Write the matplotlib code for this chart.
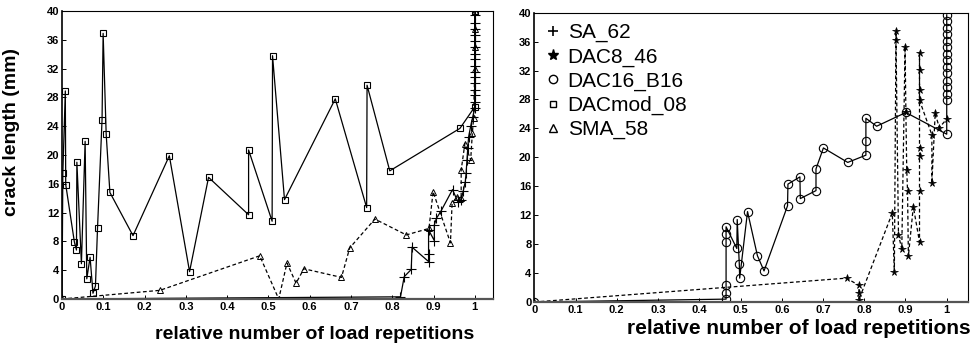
import matplotlib
matplotlib.use("Agg")
import matplotlib.pyplot as plt
from matplotlib.lines import Line2D

plt.rcParams['font.family'] = ['Liberation Sans', 'DejaVu Sans']

# ---- left panel ----
sa62_x = [0, 0.82, 0.829, 0.846, 0.848, 0.888, 0.888, 0.888, 0.902, 0.902, 0.907, 0.918,
          0.946, 0.959, 0.967, 0.972, 0.977, 0.979, 0.981, 0.983, 0.985, 0.99, 0.995, 1.0,
          1.0, 1.0, 1.0, 1.0, 1.0, 1.0, 1.0, 1.0, 1.0, 1.0, 1.0, 1.0, 1.0, 1.0, 1.0]
sa62_y = [0, 0.3, 3.1, 4.1, 7.2, 5.2, 6.2, 9.6, 8.1, 10.3, 11.2, 12.2,
          15.2, 13.5, 13.8, 15.0, 16.3, 17.5, 19.3, 21.0, 22.5, 24.0, 25.3, 26.5,
          27.4, 28.3, 29.1, 30.0, 30.8, 31.6, 32.4, 33.3, 34.1, 35.0, 35.8, 36.7, 37.5, 38.4, 39.4]

dacmod_x = [0, 0.002, 0.008, 0.009, 0.030, 0.035, 0.036, 0.047, 0.056, 0.060, 0.068, 0.075,
            0.081, 0.086, 0.097, 0.0996, 0.107, 0.116, 0.172, 0.260, 0.309, 0.355, 0.452,
            0.452, 0.509, 0.510, 0.539, 0.662, 0.738, 0.739, 0.794, 0.964, 1.0, 1.0]
dacmod_y = [0, 17.5, 28.9, 15.9, 7.9, 6.8, 19.0, 4.9, 21.9, 2.8, 5.8, 0.8,
            1.8, 9.8, 24.9, 36.9, 22.9, 14.8, 8.8, 19.9, 3.8, 16.9, 11.7,
            20.7, 10.8, 33.8, 13.8, 27.8, 12.7, 29.7, 17.8, 23.7, 26.7, 40.0]

sma58_x = [0, 0.237, 0.479, 0.525, 0.545, 0.567, 0.586, 0.677, 0.697, 0.758, 0.834, 0.889,
           0.899, 0.941, 0.945, 0.957, 0.967, 0.967, 0.976, 0.99, 0.994, 0.997, 1.0, 1.0,
           1.0, 1.0]
sma58_y = [0, 1.2, 6.0, 0.0, 5.0, 2.2, 4.2, 3.0, 7.1, 11.1, 8.9, 9.8,
           14.9, 7.8, 13.3, 14.2, 14.0, 17.9, 21.6, 19.3, 23.0, 25.1, 32.0, 35.0,
           37.5, 40.0]

# ---- right panel ----
dac16_x = [0, 0.465, 0.465, 0.465, 0.465, 0.465, 0.465, 0.491, 0.492, 0.497, 0.498, 0.517,
           0.541, 0.557, 0.614, 0.615, 0.644, 0.645, 0.683, 0.683, 0.701, 0.760, 0.804,
           0.804, 0.804, 0.830, 0.901, 1.0, 1.0, 1.0, 1.0, 1.0, 1.0, 1.0, 1.0, 1.0, 1.0,
           1.0, 1.0, 1.0, 1.0, 1.0]
dac16_y = [0, 0.4, 1.3, 2.4, 8.3, 9.4, 10.4, 7.4, 11.4, 5.3, 3.3, 12.5,
           6.4, 4.3, 13.3, 16.3, 17.3, 14.3, 15.4, 18.4, 21.3, 19.3, 20.3,
           22.3, 25.4, 24.3, 26.2, 23.2, 27.9, 28.8, 29.7, 30.6, 31.6, 32.5, 33.4, 34.3,
           35.2, 36.1, 37.0, 37.9, 38.8, 39.7]

dac8_x = [0, 0.757, 0.787, 0.787, 0.787, 0.868, 0.873, 0.877, 0.877, 0.883, 0.891, 0.899,
          0.901, 0.903, 0.905, 0.907, 0.919, 0.934, 0.934, 0.934, 0.934, 0.934, 0.934,
          0.934, 0.934, 0.964, 0.964, 0.972, 0.982, 1.0]
dac8_y = [0, 3.3, 2.3, 1.3, 0.3, 12.3, 4.1, 37.4, 36.2, 9.3, 7.3, 35.3,
          26.2, 18.3, 15.3, 6.3, 13.2, 8.3, 15.3, 20.2, 21.3, 34.4, 32.1,
          29.3, 27.9, 23.1, 16.4, 26.1, 24.1, 25.3]

x_ticks = [0, 0.1, 0.2, 0.3, 0.4, 0.5, 0.6, 0.7, 0.8, 0.9, 1]
x_tick_labels = ["0", "0.1", "0.2", "0.3", "0.4", "0.5", "0.6", "0.7", "0.8", "0.9", "1"]
y_ticks = [0, 4, 8, 12, 16, 20, 24, 28, 32, 36, 40]

names = ["SA_62", "DAC8_46", "DAC16_B16", "DACmod_08", "SMA_58"]

fig = plt.figure(figsize=(9.75, 3.52), dpi=100)
ax1 = fig.add_axes([0.0636, 0.1506, 0.442, 0.818])
ax2 = fig.add_axes([0.548, 0.142, 0.445, 0.822])

lw = 0.9
dash = (0, (3, 2))

ax1.plot(dacmod_x, dacmod_y, color='black', lw=lw, marker='s', ms=5, mfc='none', mew=0.8)
ax1.plot(sma58_x, sma58_y, color='black', lw=lw, ls=dash, marker='^', ms=4.5, mfc='none', mew=0.7)
ax1.plot(sa62_x, sa62_y, color='black', lw=lw, marker='+', ms=7, mew=0.8)

ax2.plot(dac16_x, dac16_y, color='black', lw=lw, marker='o', ms=6, mfc='none', mew=0.8)
ax2.plot(dac8_x, dac8_y, color='black', lw=lw, ls=dash, marker='*', ms=5.5, mew=0.5)

for ax, xmax in [(ax1, 1.044), (ax2, 1.052)]:
    ax.set_xlim(0, xmax)
    ax.set_ylim(0, 40)
    ax.set_xticks(x_ticks)
    ax.set_xticklabels(x_tick_labels, fontsize=8, fontweight='bold')
    ax.set_yticks(y_ticks)
    ax.set_yticklabels([str(v) for v in y_ticks], fontsize=8, fontweight='bold')
    ax.tick_params(direction='in', length=3, width=0.7, pad=2)
    for s in ax.spines.values():
        s.set_linewidth(0.8)
    ax.spines['bottom'].set_linewidth(1.6)
    ax.spines['bottom'].set_color('#555555')
    ax.spines['left'].set_linewidth(1.2)

ax1.set_ylabel("crack length (mm)", fontsize=14, fontweight='bold')
ax1.yaxis.set_label_coords(-0.097, 0.58)
ax1.set_xlabel("relative number of load repetitions", fontsize=14, fontweight='bold')
ax1.xaxis.set_label_coords(0.587, -0.125)
ax1.xaxis.label.set_va('center')

ax2.set_xlabel("relative number of load repetitions", fontsize=15, fontweight='bold')
ax2.xaxis.set_label_coords(0.61, -0.09)
ax2.xaxis.label.set_va('center')

handles = [
    Line2D([], [], ls='none', color='black', marker='+', ms=7, mew=1.2),
    Line2D([], [], ls='none', color='black', marker='*', ms=8),
    Line2D([], [], ls='none', color='black', marker='o', ms=6, mfc='none', mew=1.0),
    Line2D([], [], ls='none', color='black', marker='s', ms=4, mfc='none', mew=1.0),
    Line2D([], [], ls='none', color='black', marker='^', ms=6, mfc='none', mew=1.0),
]
ax2.legend(handles, names, loc='upper left', bbox_to_anchor=(0.0, 1.0), frameon=False,
           fontsize=15, handlelength=0.8, handletextpad=0.3, labelspacing=0.24,
           borderaxespad=0.3, borderpad=0.2)

fig.savefig("out.png", dpi=100)
